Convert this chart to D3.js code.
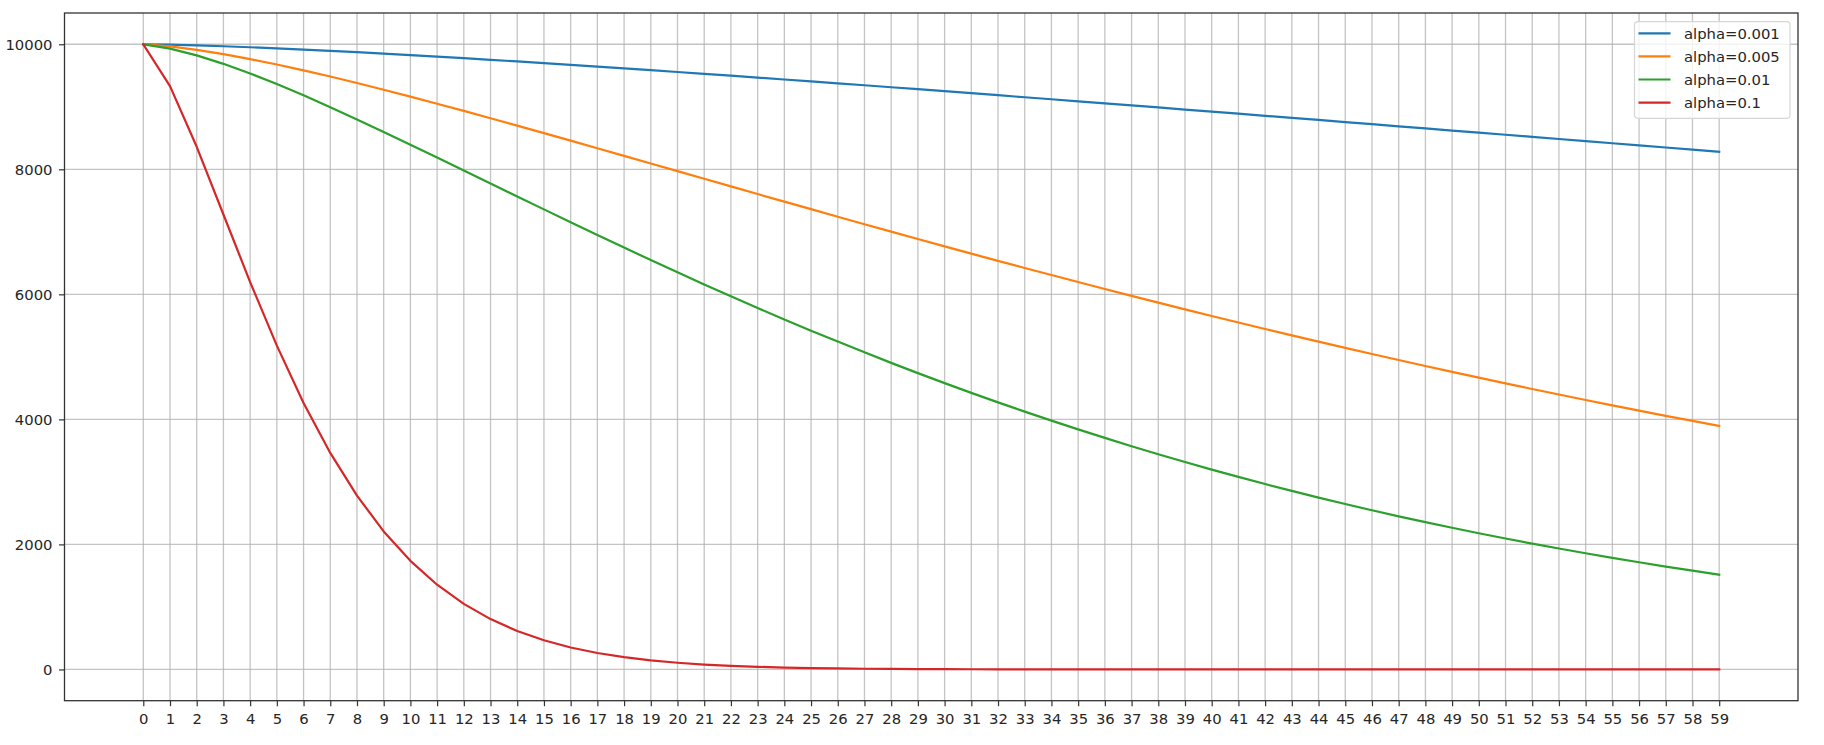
<!DOCTYPE html>
<html>
<head>
<meta charset="utf-8">
<script src="https://cdn.jsdelivr.net/npm/d3@7"></script>
<style>
  html, body { margin: 0; padding: 0; background: #fff; }
  svg { display: block; }
  text { font-family: "DejaVu Sans", sans-serif; }
</style>
</head>
<body>
<svg id="chart" width="1824" height="745"></svg>
<script>
const steps = [0,1,2,3,4,5,6,7,8,9,10,11,12,13,14,15,16,17,18,19,20,21,22,23,24,25,26,27,28,29,
  30,31,32,33,34,35,36,37,38,39,40,41,42,43,44,45,46,47,48,49,50,51,52,53,54,55,56,57,58,59];

const seriesNames = ["alpha=0.001", "alpha=0.005", "alpha=0.01", "alpha=0.1"];
const seriesColors = ["#1f77b4", "#ff7f0e", "#2ca02c", "#d62728"];

const alpha0001 = [10000,9993,9982,9968,9952,9934,9915,9895,9873,9850,9827,9802,9777,9751,9725,9698,
  9670,9643,9614,9585,9556,9527,9497,9467,9436,9406,9375,9344,9312,9281,9249,9217,9185,9152,9120,
  9087,9054,9022,8989,8955,8922,8889,8856,8822,8789,8755,8721,8688,8654,8620,8586,8553,8519,8485,
  8451,8417,8383,8349,8315,8281];

const alpha0005 = [10000,9965,9911,9842,9763,9676,9583,9484,9380,9273,9162,9049,8934,8817,8698,8578,
  8458,8336,8214,8092,7970,7848,7726,7604,7482,7362,7241,7122,7003,6885,6767,6651,6536,6422,6309,
  6197,6086,5976,5867,5760,5654,5550,5446,5344,5243,5144,5046,4949,4854,4760,4667,4576,4486,4397,
  4310,4224,4140,4056,3975,3894];

const alpha001 = [10000,9931,9822,9687,9533,9363,9183,8994,8798,8598,8394,8188,7981,7773,7565,7359,
  7153,6949,6748,6548,6352,6159,5969,5782,5599,5419,5244,5072,4904,4740,4580,4424,4272,4124,3980,
  3840,3704,3571,3443,3318,3197,3080,2966,2856,2749,2646,2546,2449,2356,2266,2178,2094,2012,1934,
  1858,1784,1714,1645,1580,1516];

const alpha01 = [10000,9330,8360,7277,6196,5179,4263,3463,2780,2208,1737,1355,1049,805,614,466,
  351,263,196,145,107,78.5,57.4,41.8,30.3,21.9,15.7,11.3,8.0,5.7,4.1,2.9,2.0,1.4,1.0,0.7,0.5,0.3,
  0.2,0.2,0.1,0.1,0.1,0,0,0,0,0,0,0,0,0,0,0,0,0,0,0,0,0];

const yTicks = [0, 2000, 4000, 6000, 8000, 10000];

const seriesValues = [alpha0001, alpha0005, alpha001, alpha01];

const svg = d3.select("#chart");
const padL = 64.5, padR = 1798, padT = 13, padB = 700.7;
const fontSize = 14.8;

const x = d3.scaleLinear().domain([-2.95, 61.95]).range([padL, padR]);
const y = d3.scaleLinear().domain([-500, 10500]).range([padB, padT]);

// grid
const grid = svg.append("g");
grid.selectAll("line.vx").data(steps).enter().append("line")
  .attr("x1", d => x(d)).attr("x2", d => x(d))
  .attr("y1", padT).attr("y2", padB)
  .attr("stroke", "#b0b0b0").attr("stroke-width", 1.3).attr("stroke-opacity", 0.75);
grid.selectAll("line.hy").data(yTicks).enter().append("line")
  .attr("x1", padL).attr("x2", padR)
  .attr("y1", d => y(d)).attr("y2", d => y(d))
  .attr("stroke", "#b0b0b0").attr("stroke-width", 1.3).attr("stroke-opacity", 0.75);

// lines
const line = d3.line().x((d, i) => x(steps[i])).y(d => y(d));
seriesValues.forEach((vals, k) => {
  svg.append("path").datum(vals)
    .attr("d", line)
    .attr("fill", "none")
    .attr("stroke", seriesColors[k])
    .attr("stroke-width", 2.2)
    .attr("stroke-linejoin", "round")
    .attr("stroke-linecap", "square");
});

// axes
const xAxis = d3.axisBottom(x).tickValues(steps).tickFormat(d3.format("d"))
  .tickSizeInner(5.5).tickSizeOuter(0).tickPadding(7);
const yAxis = d3.axisLeft(y).tickValues(yTicks).tickFormat(d3.format("d"))
  .tickSizeInner(5.5).tickSizeOuter(0).tickPadding(6.5);

const gx = svg.append("g").attr("transform", `translate(0,${padB})`).call(xAxis);
const gy = svg.append("g").attr("transform", `translate(${padL},0)`).call(yAxis);
[gx, gy].forEach(g => {
  g.select(".domain").remove();
  g.selectAll(".tick line").attr("stroke", "#333").attr("stroke-width", 1.2);
  g.selectAll(".tick text").attr("fill", "#262626").style("font-size", fontSize + "px")
    .style("font-family", "'DejaVu Sans', sans-serif");
});

// spines
svg.append("rect")
  .attr("x", padL).attr("y", padT)
  .attr("width", padR - padL).attr("height", padB - padT)
  .attr("fill", "none").attr("stroke", "#333").attr("stroke-width", 1.3);

// legend
const lg = svg.append("g");
lg.append("rect")
  .attr("x", 1634.5).attr("y", 21.7).attr("width", 155.5).attr("height", 96.6)
  .attr("rx", 3.5).attr("ry", 3.5)
  .attr("fill", "#fff").attr("fill-opacity", 0.8)
  .attr("stroke", "#d6d6d6").attr("stroke-width", 1.2);
seriesNames.forEach((name, k) => {
  const cy = 33.3 + k * 23.1;
  lg.append("line")
    .attr("x1", 1638.5).attr("x2", 1670.5).attr("y1", cy).attr("y2", cy)
    .attr("stroke", seriesColors[k]).attr("stroke-width", 2.2);
  lg.append("text")
    .attr("x", 1684).attr("y", cy).attr("dy", "0.36em")
    .attr("fill", "#262626").style("font-size", fontSize + "px")
    .text(name);
});
</script>
</body>
</html>
